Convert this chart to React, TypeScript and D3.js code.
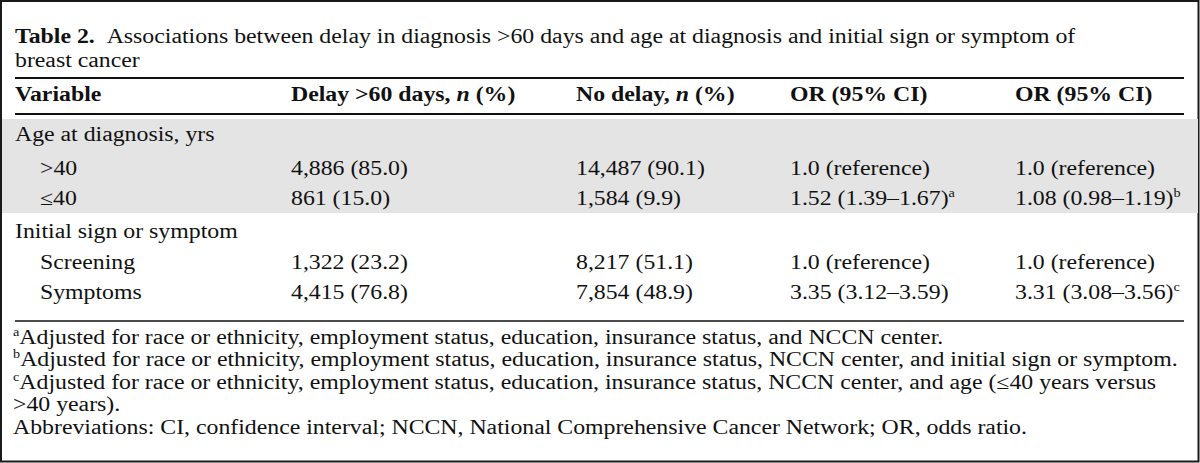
import React, { useEffect } from "react";
import * as d3 from "d3";

// ---------- data ----------
const titleBold = "Table 2.";
const titleLines = [
  "Associations between delay in diagnosis >60 days and age at diagnosis and initial sign or symptom of",
  "breast cancer",
];
const headers = ["Variable", "Delay >60 days, ", "No delay, ", "OR (95% CI)", "OR (95% CI)"];
const groups = ["Age at diagnosis, yrs", "Initial sign or symptom"];
const categories = [">40", "≤40", "Screening", "Symptoms"];
const categoryGroup = [0, 0, 1, 1];
const delayN = [4886, 861, 1322, 4415];
const delayPct = [85.0, 15.0, 23.2, 76.8];
const noDelayN = [14487, 1584, 8217, 7854];
const noDelayPct = [90.1, 9.9, 51.1, 48.9];
const orCrude = ["1.0 (reference)", "1.52 (1.39–1.67)", "1.0 (reference)", "3.35 (3.12–3.59)"];
const orCrudeNote = ["", "a", "", ""];
const orAdjusted = ["1.0 (reference)", "1.08 (0.98–1.19)", "1.0 (reference)", "3.31 (3.08–3.56)"];
const orAdjustedNote = ["", "b", "", "c"];
const footnoteMarks = ["a", "b", "c", "", ""];
const footnotes = [
  "Adjusted for race or ethnicity, employment status, education, insurance status, and NCCN center.",
  "Adjusted for race or ethnicity, employment status, education, insurance status, NCCN center, and initial sign or symptom.",
  "Adjusted for race or ethnicity, employment status, education, insurance status, NCCN center, and age (≤40 years versus",
  ">40 years).",
  "Abbreviations: CI, confidence interval; NCCN, National Comprehensive Cancer Network; OR, odds ratio.",
];

// ---------- layout ----------
const W = 1200;
const H = 463;
const SX = 1.19; // horizontal stretch of the source image
const FONT = "'Liberation Serif', 'Times New Roman', serif";
const FS = 20;

const colX = [15, 291, 576, 790, 1015]; // image px
const indentX = 40;
const titleY = [43, 67];
const rule1Y = 78;
const headerY = 101;
const rule2Y = 114;
const grayTop = 119;
const grayBottom = 213;
// baselines for body lines: group0, cat0, cat1, group1, cat2, cat3
const bodyY = [141, 175, 205, 238, 269, 299];
const rule3Y = 321;
const footY = d3.scaleLinear().domain([0, 4]).range([344, 434]);

const fmtN = d3.format(",");
const fmtP = (v: number) => v.toFixed(1);

function lineIndexForCategory(i: number) {
  return categoryGroup[i] === 0 ? 1 + i : 2 + i;
}

export default function App() {
  useEffect(() => {
    document.body.style.margin = "0";
  }, []);
  const x = (v: number) => v / SX;
  const ruleL = x(15);
  const ruleR = x(1184);
  return (
    <svg width={W} height={H} style={{ display: "block", background: "#fff" }} fontFamily={FONT} fontSize={FS}>
      <rect x={0} y={0} width={W} height={H} fill="#fff" />
      <rect x={1} y={1} width={W - 2.5} height={H - 2.5} fill="none" stroke="#1a1a1a" strokeWidth={2} />
      <rect x={2} y={grayTop} width={W - 4} height={grayBottom - grayTop} fill="#e4e4e4" />
      <g transform={`scale(${SX},1)`} fill="#111">
        {/* title */}
        <text x={x(colX[0])} y={titleY[0]}>
          <tspan fontWeight="bold">{titleBold}</tspan>
          <tspan>{"\u00a0\u00a0" + titleLines[0]}</tspan>
        </text>
        <text x={x(colX[0])} y={titleY[1]}>{titleLines[1]}</text>
        <line x1={ruleL} x2={ruleR} y1={rule1Y} y2={rule1Y} stroke="#111" strokeWidth={2} />
        {/* header */}
        <text x={x(colX[0])} y={headerY} fontWeight="bold">{headers[0]}</text>
        <text x={x(colX[1])} y={headerY} fontWeight="bold">
          {headers[1]}
          <tspan fontStyle="italic">n</tspan>
          {" (%)"}
        </text>
        <text x={x(colX[2])} y={headerY} fontWeight="bold">
          {headers[2]}
          <tspan fontStyle="italic">n</tspan>
          {" (%)"}
        </text>
        <text x={x(colX[3])} y={headerY} fontWeight="bold">{headers[3]}</text>
        <text x={x(colX[4])} y={headerY} fontWeight="bold">{headers[4]}</text>
        <line x1={ruleL} x2={ruleR} y1={rule2Y} y2={rule2Y} stroke="#111" strokeWidth={2} />
        {/* groups */}
        {groups.map((g, gi) => (
          <text key={g} x={x(colX[0])} y={bodyY[gi === 0 ? 0 : 3]}>{g}</text>
        ))}
        {/* rows */}
        {categories.map((c, i) => {
          const y = bodyY[lineIndexForCategory(i)];
          return (
            <g key={c}>
              <text x={x(indentX)} y={y}>{c}</text>
              <text x={x(colX[1])} y={y}>{`${fmtN(delayN[i])} (${fmtP(delayPct[i])})`}</text>
              <text x={x(colX[2])} y={y}>{`${fmtN(noDelayN[i])} (${fmtP(noDelayPct[i])})`}</text>
              <text x={x(colX[3])} y={y}>
                {orCrude[i]}
                {orCrudeNote[i] && (
                  <tspan fontSize={12} dy={-8}>{orCrudeNote[i]}</tspan>
                )}
              </text>
              <text x={x(colX[4])} y={y}>
                {orAdjusted[i]}
                {orAdjustedNote[i] && (
                  <tspan fontSize={12} dy={-8}>{orAdjustedNote[i]}</tspan>
                )}
              </text>
            </g>
          );
        })}
        <line x1={ruleL} x2={ruleR} y1={rule3Y} y2={rule3Y} stroke="#111" strokeWidth={1.5} />
        {/* footnotes */}
        {footnotes.map((f, i) => (
          <text key={i} x={x(13)} y={footY(i)}>
            {footnoteMarks[i] && <tspan fontSize={12} dy={-8}>{footnoteMarks[i]}</tspan>}
            {footnoteMarks[i] ? <tspan dy={8}>{f}</tspan> : f}
          </text>
        ))}
      </g>
    </svg>
  );
}
